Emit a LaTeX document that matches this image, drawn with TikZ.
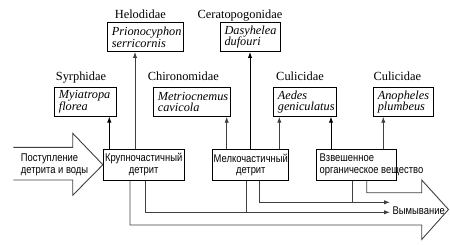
\documentclass[tikz,border=0pt]{standalone}
\usepackage{fontspec}
\setmainfont{Liberation Serif}
\newfontfamily\rusfont[FakeStretch=0.84]{Liberation Sans}
\usetikzlibrary{arrows.meta}
\begin{document}
\begin{tikzpicture}[x=1pt,y=-1pt,
  box/.style={draw=black, line width=0.95pt, inner ysep=0pt},
  spbox/.style={box, inner xsep=4.5pt, text width=#1, align=left, minimum height=28.5pt,
                font=\fontsize{12.3}{11.4}\selectfont\itshape},
  fam/.style={anchor=base, inner sep=0pt, font=\fontsize{12.4}{14}\selectfont},
  rus/.style={font=\rusfont\fontsize{11.2}{11.4}\selectfont},
  rbox/.style={box, rus, inner xsep=1pt, minimum height=30.7pt, align=center},
  con/.style={draw=black!75, line width=0.9pt},
  blk/.style={draw=black, line width=0.9pt},
  tip/.style={-{Latex[length=6pt,width=4.4pt]}},
]
\useasboundingbox (0,0) rectangle (450,244);

% species boxes
\node[spbox=52.7pt] (syr) at (85.2,101.8) {Myiatropa\\florea};
\node[spbox=67pt]   (hel) at (145.3,37.2) {Prionocyphon\\serricornis};
\node[spbox=67.7pt] (chi) at (191.7,102) {Metriocnemus\\cavicola};
\node[spbox=51pt]   (cer) at (250,37.2) {Dasyhelea\\dufouri};
\node[spbox=53.7pt] (aed) at (304.7,102) {Aedes\\geniculatus};
\node[spbox=51pt]   (ano) at (403.3,102) {Anopheles\\plumbeus};

% family labels
\node[fam] (lsyr) at (81,80) {Syrphidae};
\node[fam] (lhel) at (140.3,18.3) {Helodidae};
\node[fam] (lchi) at (183.3,80) {Chironomidae};
\node[fam] (lcer) at (240,18.3) {Ceratopogonidae};
\node[fam] (lae)  at (300,80) {Culicidae};
\node[fam] (lan)  at (397.3,80) {Culicidae};

% main boxes
\node[rbox, minimum width=80.7pt] (kru) at (143.7,164.7) {Крупночастичный\\детрит};
\node[rbox, minimum width=75pt]   (mel) at (250.8,164.8) {Мелкочастичный\\детрит};
\node[box, minimum width=80pt, minimum height=30.7pt, inner sep=0pt] (vzv) at (356.7,164.8) {};
\node[rus, anchor=west, align=left, inner sep=0pt] (vzvt) at (319.5,164.8) {Взвешенное\\органическое вещество};

% inflow arrow
\node[rus, anchor=west, align=left, inner sep=0pt] (inp) at (20.7,165) {Поступление\\детрита и воды};
\draw[con] (13.3,147.3) -- (72.7,147.3) -- (72.7,133.3) -- (kru.west)
           -- (72.7,195.3) -- (72.7,180) -- (13.3,180);

% outflow label
\node[rus, anchor=west, inner sep=0pt] (vym) at (392.5,210.5) {Вымывание};

% column coordinates
\coordinate (x1) at (109.3,0);
\coordinate (x2) at (135,0);
\coordinate (x3) at (226.7,0);
\coordinate (x4) at (250,0);
\coordinate (x5) at (279.3,0);
\coordinate (x6) at (331,0);
\coordinate (x7) at (383.3,0);
\coordinate (k1) at (130,0);
\coordinate (k2) at (145.7,0);
\coordinate (m1) at (246,0);
\coordinate (m2) at (259.3,0);
\coordinate (v1) at (352.7,0);
\coordinate (v2) at (366.7,0);
\coordinate (eA) at (390,212.3);
\coordinate (eB) at (390,202.3);

% upward arrows
\draw[blk,tip] (kru.north -| x1) -- (syr.south -| x1);
\draw[con,tip] (kru.north -| x2) -- (hel.south -| x2);
\draw[con,tip] (mel.north -| x3) -- (chi.south -| x3);
\draw[blk,tip] (mel.north -| x4) -- (cer.south -| x4);
\draw[con,tip] (mel.north -| x5) -- (aed.south -| x5);
\draw[blk,tip] (vzv.north -| x6) -- (aed.south -| x6);
\draw[con,tip] (vzv.north -| x7) -- (ano.south -| x7);

% washout arrows
\draw[con,tip] (kru.south -| k2) |- (eA);
\draw[con] (mel.south -| m1) -- (m1 |- eA);
\draw[con,tip] (mel.south -| m2) |- (eB);
\draw[con] (vzv.south -| v1) -- (v1 |- eB);

% big outflow arrow
\draw[con] (vzv.south -| v2) -- (366.7,192.7) -- (421.7,192.7) -- (421.7,180)
           -- (448.5,209.5) -- (421.7,239.5) -- (421.7,225) -- (130,225) -- (kru.south -| k1);
\end{tikzpicture}
\end{document}
